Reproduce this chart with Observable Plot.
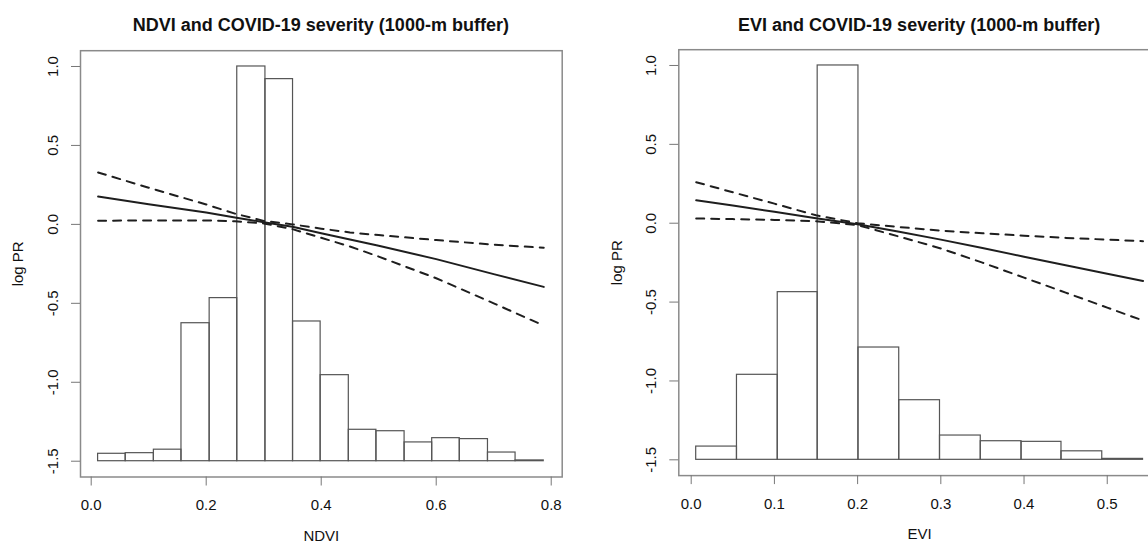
<!DOCTYPE html>
<html>
<head>
<meta charset="utf-8">
<script src="https://cdn.jsdelivr.net/npm/d3@7"></script>
<script src="https://cdn.jsdelivr.net/npm/@observablehq/plot@0.6"></script>
<style>
  html, body { margin: 0; padding: 0; background: #fff; }
  #wrap { position: relative; width: 1148px; height: 543px; overflow: hidden; background: #fff; font-family: "Liberation Sans", Arial, sans-serif; }
  .title { position: absolute; top: 16px; font-size: 18px; line-height: 18px; font-weight: bold; text-align: center; color: #111; white-space: nowrap; }
  .panel { position: absolute; top: 40px; }
  .panel svg { max-width: none !important; display: block; }
</style>
</head>
<body>
<div id="wrap">
  <div class="title" id="t1" style="left:80px;width:481.7px;"></div>
  <div class="title" id="t2" style="left:678.3px;width:481.7px;"></div>
  <div class="panel" id="p1" style="left:0px;width:574px;"></div>
  <div class="panel" id="p2" style="left:574px;width:600px;"></div>
</div>
<script>
// ---------- data ----------
const titles = ["NDVI and COVID-19 severity (1000-m buffer)", "EVI and COVID-19 severity (1000-m buffer)"];
const xLabels = ["NDVI", "EVI"];
const yLabel = "log PR";

const yTicks = [-1.5, -1.0, -0.5, 0.0, 0.5, 1.0];
const ndviTicks = [0.0, 0.2, 0.4, 0.6, 0.8];
const eviTicks = [0.0, 0.1, 0.2, 0.3, 0.4, 0.5];

const histBase = -1.5;

// NDVI histogram (bar edges and rescaled bar tops on the log PR axis)
const ndviEdges = [0.012, 0.060, 0.109, 0.157, 0.206, 0.254, 0.303, 0.351, 0.399, 0.448, 0.496, 0.545, 0.593, 0.641, 0.690, 0.738, 0.787];
const ndviTops  = [-1.453, -1.449, -1.427, -0.626, -0.467, 1.0, 0.92, -0.615, -0.955, -1.301, -1.31, -1.381, -1.354, -1.36, -1.445, -1.495];

// EVI histogram
const eviEdges = [0.006, 0.055, 0.104, 0.152, 0.201, 0.250, 0.299, 0.348, 0.397, 0.445, 0.494, 0.543];
const eviTops  = [-1.416, -0.961, -0.437, 1.0, -0.788, -1.122, -1.346, -1.382, -1.386, -1.446, -1.494];

// NDVI fitted log PR with confidence band
const ndviX     = [0.012, 0.1, 0.2, 0.25, 0.3, 0.35, 0.4, 0.45, 0.5, 0.6, 0.7, 0.787];
const ndviFit   = [0.176, 0.128, 0.075, 0.044, 0.014, -0.015, -0.056, -0.096, -0.136, -0.22, -0.315, -0.396];
const ndviUpper = [0.329, 0.232, 0.126, 0.068, 0.022, 0.0, -0.027, -0.051, -0.068, -0.099, -0.129, -0.148];
const ndviLower = [0.023, 0.025, 0.025, 0.02, 0.006, -0.03, -0.085, -0.14, -0.204, -0.341, -0.50, -0.641];

// EVI fitted log PR with confidence band
const eviX     = [0.006, 0.05, 0.1, 0.15, 0.2, 0.25, 0.3, 0.35, 0.4, 0.45, 0.5, 0.543];
const eviFit   = [0.145, 0.113, 0.072, 0.031, -0.006, -0.054, -0.104, -0.157, -0.212, -0.266, -0.32, -0.366];
const eviUpper = [0.26, 0.196, 0.124, 0.05, 0.0, -0.024, -0.047, -0.064, -0.079, -0.093, -0.104, -0.114];
const eviLower = [0.030, 0.026, 0.021, 0.013, -0.012, -0.085, -0.16, -0.25, -0.345, -0.44, -0.535, -0.617];

// ---------- drawing ----------
const fmt = d => d.toFixed(1);

function panel({edges, tops, xs, fit, upper, lower, xTicks, xLabel, width, mLeft, mRight, mTop, mBottom, xDomain}) {
  const bars = tops.map((t, i) => ({x1: edges[i], x2: edges[i + 1], y1: histBase, y2: t}));
  const pts = xs.map((x, i) => ({x, fit: fit[i], up: upper[i], lo: lower[i]}));
  const lineStyle = {stroke: "#1e1e1e", strokeWidth: 2};
  const dash = {...lineStyle, strokeDasharray: "8,7", strokeLinecap: "round"};
  return Plot.plot({
    width, height: 503,
    marginLeft: mLeft, marginRight: mRight, marginTop: mTop, marginBottom: mBottom,
    x: {domain: xDomain, label: null},
    y: {domain: [-1.6, 1.1], label: null},
    style: {fontFamily: "'Liberation Sans', Arial, sans-serif", fontSize: "15px", color: "#111", background: "transparent", overflow: "visible"},
    marks: [
      Plot.frame({stroke: "#8a8a8a", strokeWidth: 1.5}),
      Plot.rect(bars, {x1: "x1", x2: "x2", y1: "y1", y2: "y2", fill: "none", stroke: "#555", strokeWidth: 1.2}),
      Plot.line(pts, {x: "x", y: "fit", ...lineStyle}),
      Plot.line(pts, {x: "x", y: "up", ...dash}),
      Plot.line(pts, {x: "x", y: "lo", ...dash}),
      Plot.axisX({ticks: xTicks, tickSize: 9, tickFormat: () => "", stroke: "#777", label: null}),
      Plot.axisY({ticks: yTicks, tickSize: 9, tickFormat: () => "", stroke: "#777", label: null}),
      Plot.text(xTicks, {x: d => d, text: fmt, frameAnchor: "bottom", dy: 28.5, lineAnchor: "middle", fill: "#111"}),
      Plot.text(yTicks, {y: d => d, text: fmt, frameAnchor: "left", dx: -27.5, rotate: -90, textAnchor: "middle", lineAnchor: "middle", fill: "#111"}),
      Plot.text([xLabel], {text: d => d, frameAnchor: "bottom", dy: 59, lineAnchor: "middle", fill: "#111"}),
      Plot.text([yLabel], {text: d => d, frameAnchor: "left", dx: -62, rotate: -90, textAnchor: "middle", lineAnchor: "middle", fill: "#111"})
    ]
  });
}

document.getElementById("t1").textContent = titles[0];
document.getElementById("t2").textContent = titles[1];

document.getElementById("p1").appendChild(panel({
  edges: ndviEdges, tops: ndviTops, xs: ndviX, fit: ndviFit, upper: ndviUpper, lower: ndviLower,
  xTicks: ndviTicks, xLabel: xLabels[0], width: 574, mLeft: 80, mRight: 12.3, mTop: 10.2, mBottom: 66.5,
  xDomain: [-0.0186, 0.8191]
}));

document.getElementById("p2").appendChild(panel({
  edges: eviEdges, tops: eviTops, xs: eviX, fit: eviFit, upper: eviUpper, lower: eviLower,
  xTicks: eviTicks, xLabel: xLabels[1], width: 600, mLeft: 104.3, mRight: 14, mTop: 9.2, mBottom: 67.9,
  xDomain: [-0.0149, 0.564]
}));
</script>
</body>
</html>
